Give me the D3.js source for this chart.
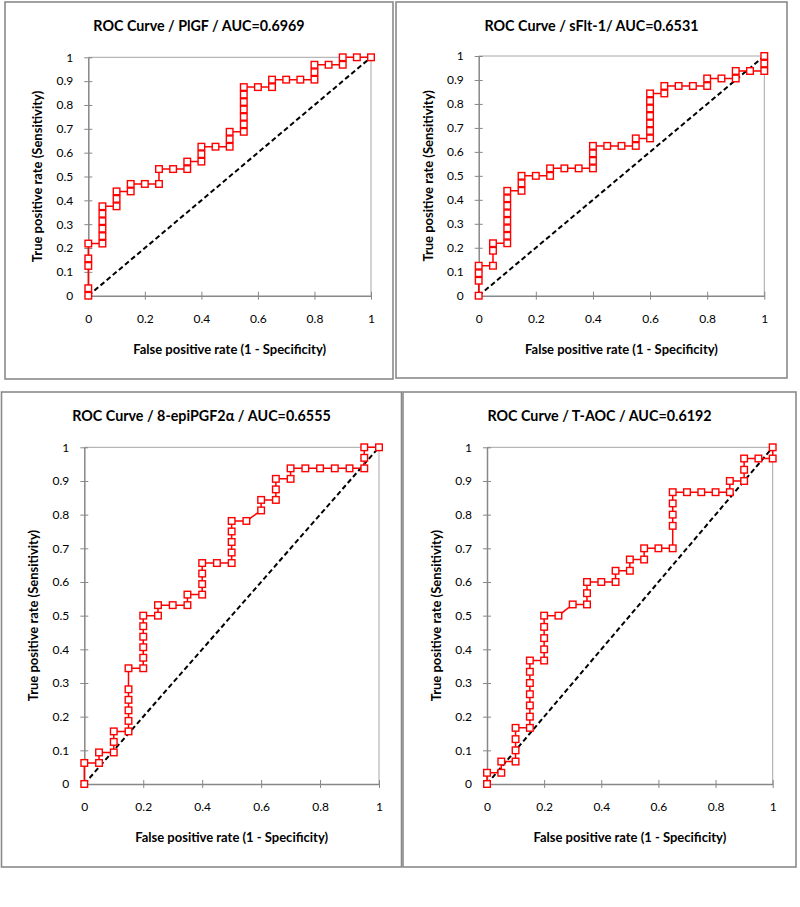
<!DOCTYPE html>
<html>
<head>
<meta charset="utf-8">
<script src="https://cdn.jsdelivr.net/npm/d3@7"></script>
<style>
  body { margin: 0; background: #fff; }
  text { font-family: Lato, 'Open Sans', sans-serif; fill: #000; }
  .tick text { font-size: 12px; }
  .axis path, .axis line { stroke: #878787; }
</style>
</head>
<body>
<div id="wrapper"></div>
<script>
// 1. Data: ROC points as [false positive rate, true positive rate]
const titles = [
  'ROC Curve / PlGF / AUC=0.6969',
  'ROC Curve / sFlt-1/ AUC=0.6531',
  'ROC Curve / 8-epiPGF2\u03b1 / AUC=0.6555',
  'ROC Curve / T-AOC / AUC=0.6192',
]
const xTicks = [0, 0.2, 0.4, 0.6, 0.8, 1]
const yTicks = [0, 0.1, 0.2, 0.3, 0.4, 0.5, 0.6, 0.7, 0.8, 0.9, 1]
const xLabel = 'False positive rate (1 - Specificity)'
const yLabel = 'True positive rate (Sensitivity)'

const plgfPoints = [
  [0, 0], [0, 0.03125], [0, 0.125], [0, 0.15625], [0, 0.21875],
  [0.05, 0.21875], [0.05, 0.25], [0.05, 0.28125], [0.05, 0.3125], [0.05, 0.34375], [0.05, 0.375],
  [0.1, 0.375], [0.1, 0.40625], [0.1, 0.4375], [0.15, 0.4375], [0.15, 0.46875],
  [0.2, 0.46875], [0.25, 0.46875], [0.25, 0.53125], [0.3, 0.53125], [0.35, 0.53125], [0.35, 0.5625],
  [0.4, 0.5625], [0.4, 0.59375], [0.4, 0.625], [0.45, 0.625], [0.5, 0.625], [0.5, 0.65625], [0.5, 0.6875],
  [0.55, 0.6875], [0.55, 0.71875], [0.55, 0.75], [0.55, 0.78125], [0.55, 0.8125], [0.55, 0.84375], [0.55, 0.875],
  [0.6, 0.875], [0.65, 0.875], [0.65, 0.90625], [0.7, 0.90625], [0.75, 0.90625], [0.8, 0.90625],
  [0.8, 0.9375], [0.8, 0.96875], [0.85, 0.96875], [0.9, 0.96875], [0.9, 1], [0.95, 1], [1, 1],
]
const sfltPoints = [
  [0, 0], [0, 0.0625], [0, 0.09375], [0, 0.125], [0.05, 0.125], [0.05, 0.1875], [0.05, 0.21875],
  [0.1, 0.21875], [0.1, 0.25], [0.1, 0.28125], [0.1, 0.3125], [0.1, 0.34375], [0.1, 0.375], [0.1, 0.40625], [0.1, 0.4375],
  [0.15, 0.4375], [0.15, 0.46875], [0.15, 0.5], [0.2, 0.5], [0.25, 0.5], [0.25, 0.53125],
  [0.3, 0.53125], [0.35, 0.53125], [0.4, 0.53125], [0.4, 0.5625], [0.4, 0.59375], [0.4, 0.625],
  [0.45, 0.625], [0.5, 0.625], [0.55, 0.625], [0.55, 0.65625],
  [0.6, 0.65625], [0.6, 0.6875], [0.6, 0.71875], [0.6, 0.75], [0.6, 0.78125], [0.6, 0.8125], [0.6, 0.84375],
  [0.65, 0.84375], [0.65, 0.875], [0.7, 0.875], [0.75, 0.875], [0.8, 0.875], [0.8, 0.90625],
  [0.85, 0.90625], [0.9, 0.90625], [0.9, 0.9375], [0.95, 0.9375], [1, 0.9375], [1, 0.96875], [1, 1],
]
const epiPoints = [
  [0, 0], [0, 0.0625], [0.05, 0.0625], [0.05, 0.09375], [0.1, 0.09375], [0.1, 0.125], [0.1, 0.15625],
  [0.15, 0.15625], [0.15, 0.1875], [0.15, 0.21875], [0.15, 0.25], [0.15, 0.28125], [0.15, 0.34375],
  [0.2, 0.34375], [0.2, 0.375], [0.2, 0.40625], [0.2, 0.4375], [0.2, 0.46875], [0.2, 0.5],
  [0.25, 0.5], [0.25, 0.53125], [0.3, 0.53125], [0.35, 0.53125], [0.35, 0.5625],
  [0.4, 0.5625], [0.4, 0.59375], [0.4, 0.625], [0.4, 0.65625], [0.45, 0.65625],
  [0.5, 0.65625], [0.5, 0.6875], [0.5, 0.71875], [0.5, 0.75], [0.5, 0.78125], [0.55, 0.78125],
  [0.6, 0.8125], [0.6, 0.84375], [0.65, 0.84375], [0.65, 0.875], [0.65, 0.90625], [0.7, 0.90625], [0.7, 0.9375],
  [0.75, 0.9375], [0.8, 0.9375], [0.85, 0.9375], [0.9, 0.9375], [0.95, 0.9375], [0.95, 0.96875], [0.95, 1], [1, 1],
]
const taocPoints = [
  [0, 0], [0, 0.0333], [0.05, 0.0333], [0.05, 0.0667], [0.1, 0.0667], [0.1, 0.1], [0.1, 0.1333], [0.1, 0.1667],
  [0.15, 0.1667], [0.15, 0.2], [0.15, 0.2333], [0.15, 0.2667], [0.15, 0.3], [0.15, 0.3333], [0.15, 0.3667],
  [0.2, 0.3667], [0.2, 0.4], [0.2, 0.4333], [0.2, 0.4667], [0.2, 0.5], [0.25, 0.5],
  [0.3, 0.5333], [0.35, 0.5333], [0.35, 0.5667], [0.35, 0.6], [0.4, 0.6], [0.45, 0.6], [0.45, 0.6333],
  [0.5, 0.6333], [0.5, 0.6667], [0.55, 0.6667], [0.55, 0.7], [0.6, 0.7], [0.65, 0.7],
  [0.65, 0.7667], [0.65, 0.8], [0.65, 0.8333], [0.65, 0.8667], [0.7, 0.8667], [0.75, 0.8667], [0.8, 0.8667],
  [0.85, 0.8667], [0.85, 0.9], [0.9, 0.9], [0.9, 0.9333], [0.9, 0.9667], [0.95, 0.9667], [1, 0.9667], [1, 1],
]
const series = [plgfPoints, sfltPoints, epiPoints, taocPoints]

// 2. Layout of the four boxes (frame, then plot area inside it)
const panels = [
  { box: [5, 2, 393, 379], plot: [88.3, 57.3, 371, 295.7] },
  { box: [396, 2, 787, 378], plot: [478.7, 56, 764.3, 295.7] },
  { box: [1.5, 392, 401.5, 867], plot: [84.3, 447.3, 379, 784] },
  { box: [403, 392, 796, 867], plot: [487, 447.3, 772.7, 784] },
]

const svg = d3.select('#wrapper').append('svg').attr('width', 800).attr('height', 907)

panels.forEach((p, i) => {
  const [bx0, by0, bx1, by1] = p.box
  const [px0, py0, px1, py1] = p.plot
  const points = series[i]

  svg.append('rect')
    .attr('x', bx0).attr('y', by0)
    .attr('width', bx1 - bx0).attr('height', by1 - by0)
    .attr('fill', 'none').attr('stroke', '#8a8a8a').attr('stroke-width', 1.6)

  const xScale = d3.scaleLinear().domain([0, 1]).range([px0, px1])
  const yScale = d3.scaleLinear().domain([0, 1]).range([py1, py0])

  // plot area frame (top and right)
  svg.append('path')
    .attr('d', `M${px0},${py0}H${px1}V${py1}`)
    .attr('fill', 'none').attr('stroke', '#a6a6a6').attr('stroke-width', 1)

  const xAxis = svg.append('g').attr('class', 'axis')
    .attr('transform', `translate(0,${py1})`)
    .call(d3.axisBottom(xScale).tickValues(xTicks).tickSize(4).tickSizeOuter(0).tickFormat(d3.format('~g')))
  xAxis.selectAll('.tick line').attr('y1', -4)
  xAxis.selectAll('.tick text').attr('dy', null).attr('y', 27)
  xAxis.select('.domain').attr('stroke-width', 1.5)

  const yAxis = svg.append('g').attr('class', 'axis')
    .attr('transform', `translate(${px0},0)`)
    .call(d3.axisLeft(yScale).tickValues(yTicks).tickSize(4).tickSizeOuter(0).tickFormat(d3.format('~g')))
  yAxis.selectAll('.tick line').attr('x1', 4)
  yAxis.selectAll('.tick text').attr('x', -15)
  yAxis.select('.domain').attr('stroke-width', 1.5)
  svg.selectAll('.axis text').attr('fill', '#000').style('font-family', 'Lato, sans-serif')

  // chance diagonal
  svg.append('line')
    .attr('x1', xScale(0)).attr('y1', yScale(0))
    .attr('x2', xScale(1)).attr('y2', yScale(1))
    .attr('stroke', '#000').attr('stroke-width', 2).attr('stroke-dasharray', '5,3')

  const lineGenerator = d3.line()
    .x((d) => xScale(d[0]))
    .y((d) => yScale(d[1]))

  svg.append('path')
    .attr('d', lineGenerator(points))
    .attr('fill', 'none').attr('stroke', '#ff0000').attr('stroke-width', 1.5)

  svg.append('g').selectAll('rect')
    .data(points)
    .join('rect')
    .attr('x', (d) => xScale(d[0]) - 3.3)
    .attr('y', (d) => yScale(d[1]) - 3.3)
    .attr('width', 6.6).attr('height', 6.6)
    .attr('fill', '#fff').attr('stroke', '#ff0000').attr('stroke-width', 1.4)

  // titles
  svg.append('text')
    .attr('x', (bx0 + bx1) / 2).attr('y', by0 + 29)
    .attr('text-anchor', 'middle')
    .style('font-size', '14.3px').style('font-weight', 'bold')
    .text(titles[i])

  svg.append('text')
    .attr('x', (px0 + px1) / 2).attr('y', py1 + 58)
    .attr('text-anchor', 'middle')
    .style('font-size', '13px').style('font-weight', 'bold')
    .text(xLabel)

  svg.append('text')
    .attr('transform', `translate(${px0 - 46},${(py0 + py1) / 2}) rotate(-90)`)
    .attr('text-anchor', 'middle')
    .style('font-size', '13px').style('font-weight', 'bold')
    .text(yLabel)
})
</script>
</body>
</html>
